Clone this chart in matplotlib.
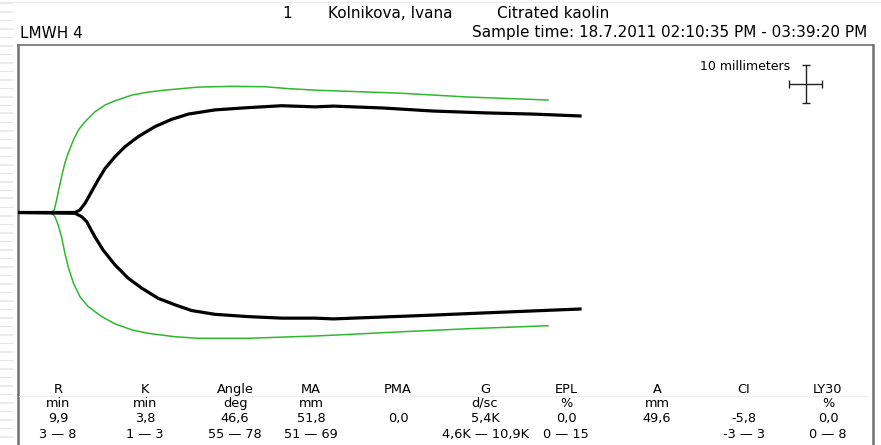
import numpy as np
import matplotlib.pyplot as plt
from matplotlib.lines import Line2D

# === KOPFZEILE ===
patient_no = "1"
patient_name = "Kolnikova, Ivana"
test_type = "Citrated kaolin"
sample_label = "LMWH 4"
sample_time = "Sample time: 18.7.2011 02:10:35 PM - 03:39:20 PM"

# === TEG-KURVEN (x: Papier-mm, Amplitude: mm) ===
green_up_x = [0, 10.2, 11.0, 11.7, 12.2, 13.2, 14.2, 15.2, 16.8, 18.3, 20.3, 23.3,
              26.4, 29.4, 34.5, 39.5, 44.5, 49.6, 54.6, 64.7, 74.8, 81.9, 90.0,
              115.8, 136.1, 160.6]
green_up_a = [0, 0, 0.7, 3.3, 5.4, 9.4, 13.0, 15.6, 19.1, 21.7, 23.9, 26.5,
              28.3, 29.4, 30.9, 31.7, 32.2, 32.6, 33.0, 33.2, 33.1, 32.6, 32.2,
              31.4, 30.4, 29.6]
green_lo_x = [0, 10.2, 11.2, 12.2, 13.2, 14.2, 15.2, 16.8, 18.8, 21.3, 25.4, 29.4,
              34.5, 39.5, 47.6, 54.6, 69.8, 79.9, 90.0, 97.6, 115.8, 136.1, 160.6]
green_lo_a = [0, -0.2, -1.1, -3.3, -6.4, -10.7, -14.3, -18.6, -22.2, -24.8, -27.4, -29.3,
              -30.9, -31.8, -32.7, -33.1, -33.1, -32.8, -32.5, -32.2, -31.4, -30.6, -29.8]

black_up_x = [0, 17.3, 18.8, 20.3, 22.3, 24.3, 26.4, 29.4, 32.4, 36.5, 41.5, 46.5,
              51.6, 59.7, 69.8, 79.9, 90.0, 95.5, 110.6, 125.8, 142.1, 156.1, 170.3]
black_up_a = [0, 0, 0.7, 2.4, 5.5, 8.6, 11.6, 14.7, 17.3, 20.0, 22.6, 24.5,
              25.9, 27.0, 27.6, 28.1, 27.8, 28.0, 27.5, 26.7, 26.2, 25.9, 25.4]
black_lo_x = [0, 17.3, 19.3, 20.8, 23.3, 25.8, 29.4, 33.4, 37.5, 42.5, 47.6, 52.6,
              59.7, 69.8, 79.9, 90.0, 95.5, 110.6, 125.8, 142.1, 156.1, 170.3]
black_lo_a = [0, -0.2, -1.1, -2.4, -6.4, -9.9, -13.8, -17.3, -19.9, -22.6, -24.3, -25.8,
              -26.8, -27.4, -27.8, -27.8, -28.0, -27.5, -27.0, -26.4, -25.9, -25.4]

# === ERGEBNISTABELLE ===
param_names = ["R", "K", "Angle", "MA", "PMA", "G", "EPL", "A", "CI", "LY30"]
param_units = ["min", "min", "deg", "mm", "", "d/sc", "%", "mm", "", "%"]
param_values = ["9,9", "3,8", "46,6", "51,8", "0,0", "5,4K", "0,0", "49,6", "-5,8", "0,0"]
param_ranges = ["3 \u2014 8", "1 \u2014 3", "55 \u2014 78", "51 \u2014 69", "",
                "4,6K \u2014 10,9K", "0 \u2014 15", "", "-3 \u2014 3", "0 \u2014 8"]
col_x = [58, 145, 235, 311, 398, 485, 566, 657, 744, 828]  # Spaltenmitte [px]
row_base = [393, 407, 422, 438]                           # Grundlinie [px]

W, H = 881, 445
fig = plt.figure(figsize=(W / 100, H / 100), dpi=100)


def ftxt(x, y, s, va="center", **kw):
    fig.text(x / W, 1 - y / H, s, va=va, **kw)


def fline(xs, ys, **kw):
    fig.add_artist(Line2D([v / W for v in xs], [1 - v / H for v in ys],
                          transform=fig.transFigure, **kw))


# Lineal-Streifen links (Bildschirm-Artefakt)
for i, yy in enumerate(np.arange(3, H, 8.5)):
    fline([0, 12], [yy, yy], color="#e6e6e6", lw=1.2 if i % 2 else 0.8)
fline([0, W], [2, 2], color="#ececec", lw=0.8)
fline([19, 867], [396, 396], color="#eeeeee", lw=0.8)

# === PLOTBEREICH ===
px_mm_x, px_mm_y = 3.3, 3.8
x0, x1, y_top, y_base = 18, 873, 45, 212.5
ax = fig.add_axes([x0 / W, 0, (x1 - x0) / W, (H - y_top) / H])
ax.set_xlim(0, (x1 - x0) / px_mm_x)
ax.set_ylim(-(H - y_base) / px_mm_y, (y_base - y_top) / px_mm_y)
ax.set_xticks([])
ax.set_yticks([])
for side in ["left", "right"]:
    ax.spines[side].set_color("#707070")
    ax.spines[side].set_linewidth(1.8)
ax.spines["top"].set_color("#707070")
ax.spines["top"].set_linewidth(1.2)
ax.spines["bottom"].set_visible(False)

green = "#2db92d"
ax.plot(green_up_x, green_up_a, color=green, lw=1.1, zorder=2)
ax.plot(green_lo_x, green_lo_a, color=green, lw=1.1, zorder=2)
ax.plot(black_up_x, black_up_a, color="black", lw=2.3, zorder=3,
        solid_joinstyle="round")
ax.plot(black_lo_x, black_lo_a, color="black", lw=2.3, zorder=3,
        solid_joinstyle="round")

# Massstab 10 mm
sx = (806 - x0) / px_mm_x
sy = (y_base - 84) / px_mm_y
ax.errorbar([sx], [sy], xerr=5, yerr=5, color="#222222", lw=1.0,
            capsize=3, capthick=1.0)
ftxt(790, 66, "10 millimeters", ha="right", fontsize=9)

# === TEXTE ===
hfs = 11
ftxt(287, 14, patient_no, ha="center", fontsize=hfs)
ftxt(328, 14, patient_name, ha="left", fontsize=hfs)
ftxt(497, 14, test_type, ha="left", fontsize=hfs)
ftxt(20, 33, sample_label, ha="left", fontsize=hfs)
ftxt(867, 33, sample_time, ha="right", fontsize=hfs)

for j, cx in enumerate(col_x):
    for r, row in enumerate([param_names, param_units, param_values, param_ranges]):
        ftxt(cx, row_base[r], row[j], va="baseline", ha="center", fontsize=9.3)

fig.savefig("out.png", dpi=100)
